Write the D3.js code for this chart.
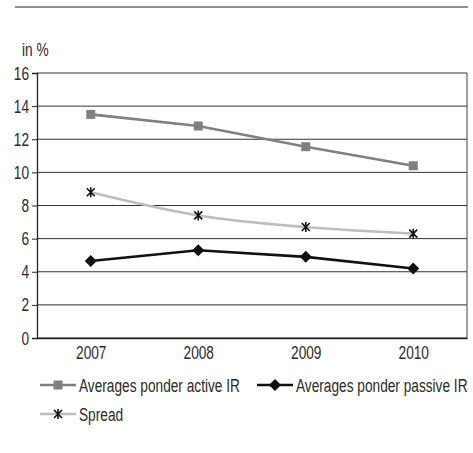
<!DOCTYPE html>
<html>
<head>
<meta charset="utf-8">
<script src="https://cdn.jsdelivr.net/npm/d3@7"></script>
<style>
  body { margin: 0; background: #fff; }
  text { font-family: "Liberation Sans", Arial, sans-serif; fill: #2a2a2a; }
</style>
</head>
<body>
<div id="chart"></div>
<script>
// data
var years = ["2007", "2008", "2009", "2010"];
var activeIR = [13.5, 12.8, 11.55, 10.4];
var passiveIR = [4.65, 5.3, 4.9, 4.2];
var spread = [8.8, 7.4, 6.7, 6.3];
var yTicks = [0, 2, 4, 6, 8, 10, 12, 14, 16];

var width = 473, height = 453;
var margin = {top: 73, right: 6, bottom: 115, left: 37};
var w = width - margin.left - margin.right,
    h = height - margin.top - margin.bottom;
var squeeze = 0.72; // the original uses a condensed face

var svg = d3.select("#chart").append("svg")
    .attr("width", width)
    .attr("height", height);

// top rule
svg.append("line")
    .attr("x1", 15).attr("x2", 468)
    .attr("y1", 7).attr("y2", 7)
    .attr("stroke", "#222").attr("stroke-width", 1);

svg.append("text")
    .attr("transform", "translate(22,56) scale(" + squeeze + ",1)")
    .style("font-size", "19px")
    .text("in %");

var g = svg.append("g")
    .attr("transform", "translate(" + margin.left + "," + margin.top + ")");

var x = d3.scalePoint().domain(years).range([0, w]).padding(0.5);
var y = d3.scaleLinear().domain([0, 16]).range([h, 0]);

// gridlines
g.selectAll(".grid").data(yTicks).enter().append("line")
    .attr("x1", 0).attr("x2", w)
    .attr("y1", function(d) { return y(d); })
    .attr("y2", function(d) { return y(d); })
    .attr("stroke", "#333").attr("stroke-width", 1);

// right border
g.append("line")
    .attr("x1", w).attr("x2", w)
    .attr("y1", 0).attr("y2", h)
    .attr("stroke", "#444").attr("stroke-width", 1);

// y axis
var yAxis = g.append("g")
    .call(d3.axisLeft(y).tickValues(yTicks).tickSize(5).tickPadding(3).tickFormat(d3.format("d")));
yAxis.select(".domain").attr("stroke", "#222").attr("stroke-width", 1.3);
yAxis.selectAll(".tick line").attr("stroke", "#222");
yAxis.selectAll("text")
    .style("font-size", "19px").style("font-family", null).attr("fill", "#2a2a2a")
    .attr("x", -8 / squeeze)
    .attr("transform", "scale(" + squeeze + ",1)");

// x axis
var xAxis = g.append("g")
    .attr("transform", "translate(0," + h + ")")
    .call(d3.axisBottom(x).tickSize(0).tickPadding(8));
xAxis.select(".domain").attr("stroke", "#222").attr("stroke-width", 1.3);
xAxis.selectAll("text")
    .style("font-size", "19px").style("font-family", null).attr("fill", "#2a2a2a")
    .attr("transform", "scale(" + squeeze + ",1)");

var series = [
  {name: "Averages ponder active IR", values: activeIR, color: "#808080", marker: "square", curve: d3.curveLinear},
  {name: "Averages ponder passive IR", values: passiveIR, color: "#111111", marker: "diamond", curve: d3.curveLinear},
  {name: "Spread", values: spread, color: "#bdbdbd", marker: "star", curve: d3.curveCatmullRom}
];

function drawMarker(sel, type, color) {
  if (type === "square") {
    sel.append("rect").attr("x", -4.5).attr("y", -4.5).attr("width", 9).attr("height", 9)
      .attr("fill", color);
  } else if (type === "diamond") {
    sel.append("path").attr("d", "M0,-6L6,0L0,6L-6,0Z").attr("fill", color);
  } else {
    sel.append("path").attr("d", "M-4,-4L4,4M-4,4L4,-4M0,-5L0,5")
      .attr("stroke", "#111").attr("stroke-width", 1.6);
  }
}

series.forEach(function(s) {
  var line = d3.line()
      .x(function(d, i) { return x(years[i]); })
      .y(function(d) { return y(d); })
      .curve(s.curve);
  g.append("path")
      .datum(s.values)
      .attr("d", line)
      .attr("fill", "none")
      .attr("stroke", s.color)
      .attr("stroke-width", 2.6);
  s.values.forEach(function(v, i) {
    var m = g.append("g").attr("transform", "translate(" + x(years[i]) + "," + y(v) + ")");
    drawMarker(m, s.marker, s.color);
  });
});

// legend
var legendPos = [[40, 385], [257, 385], [40, 414]];
series.forEach(function(s, i) {
  var lg = svg.append("g").attr("transform", "translate(" + legendPos[i][0] + "," + legendPos[i][1] + ")");
  lg.append("line").attr("x1", 0).attr("x2", 36).attr("y1", 0).attr("y2", 0)
    .attr("stroke", s.color).attr("stroke-width", 2.6);
  var m = lg.append("g").attr("transform", "translate(18,0)");
  drawMarker(m, s.marker, s.color);
  lg.append("text")
    .attr("transform", "translate(39,0) scale(" + squeeze + ",1)")
    .attr("dy", "0.35em")
    .style("font-size", "19px")
    .text(s.name);
});
</script>
</body>
</html>
